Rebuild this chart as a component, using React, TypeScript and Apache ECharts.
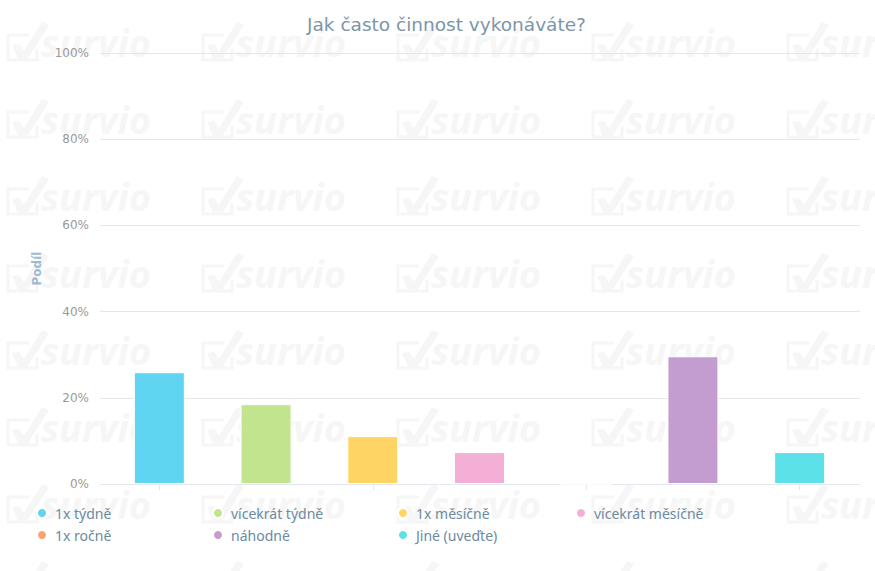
import React, { useEffect, useRef } from "react";
import * as echarts from "echarts";

const TITLE = "Jak často činnost vykonáváte?";
const Y_NAME = "Podíl";
const categories = [
  "1x týdně",
  "vícekrát týdně",
  "1x měsíčně",
  "vícekrát měsíčně",
  "1x ročně",
  "náhodně",
  "Jiné (uveďte)",
];
const shares = [25.93, 18.52, 11.11, 7.41, 0, 29.63, 7.41];
const yTicks = [0, 20, 40, 60, 80, 100];

const COLORS = ["#5fd5f1", "#c3e48e", "#fed564", "#f3afd5", "#f9a66e", "#c49dd0", "#5de1e8"];
const LEGEND_COLUMNS = [
  [0, 4],
  [1, 5],
  [2, 6],
  [3],
];
const LEGEND_X = [31, 207, 392, 570];

function watermark() {
  const els: any[] = [];
  const col = "#f6f6f6";
  for (let r = 0; r < 8; r++) {
    for (let c = 0; c < 5; c++) {
      const ox = 7 + 195 * c;
      const oy = 34 + 77 * r;
      const children: any[] = [
        {
          type: "polyline",
          z: -10,
          shape: { points: [[22, 1], [1, 1], [1, 26], [30, 26], [30, 15]] },
          style: { stroke: col, lineWidth: 3, fill: null },
        },
        {
          type: "polygon",
          z: -10,
          shape: { points: [[5, 11], [12, 10], [17, 17], [35, -12], [42, -9], [19, 27], [12, 27]] },
          style: { fill: col },
        },
      ];
      if (r < 7) {
        children.push({
          type: "text",
          z: -10,
          x: 34,
          y: 27,
          style: {
            text: "survio",
            fill: col,
            font: "italic bold 38px 'Open Sans'",
            textVerticalAlign: "bottom",
            verticalAlign: "bottom",
          },
        });
      }
      els.push({ type: "group", x: ox, y: oy, z: -10, silent: true, children });
    }
  }
  return els;
}

export default function App() {
  const ref = useRef<HTMLDivElement>(null);
  useEffect(() => {
    if (!ref.current) return;
    const chart = echarts.init(ref.current, null, { renderer: "svg" });
    const series = categories.map((name, i) => ({
      name,
      type: "bar",
      stack: "all",
      xAxisIndex: 1,
      yAxisIndex: 1,
      barWidth: 51,
      itemStyle: { color: COLORS[i], borderColor: "#ffffff", borderWidth: 1 },
      data: categories.map((_, j) => (j === i ? shares[i] : "-")),
    }));
    const legends = LEGEND_COLUMNS.map((idxs, k) => ({
      orient: "vertical",
      left: LEGEND_X[k],
      top: 501,
      itemWidth: 10,
      itemHeight: 10,
      itemGap: 8,
      icon: "circle",
      data: idxs.map((i) => categories[i]),
      textStyle: { color: "#6d8aa0", fontSize: 14, fontFamily: "'Noto Sans'", padding: [0, 0, 0, 3] },
    }));
    chart.setOption({
      animation: false,
      backgroundColor: "#ffffff",
      color: COLORS,
      title: {
        text: TITLE,
        left: 302,
        top: 10,
        textStyle: { color: "#7d95a8", fontSize: 18.5, fontWeight: "normal", fontFamily: "'DejaVu Sans'" },
      },
      legend: legends,
      graphic: watermark(),
      grid: [
        { left: 100, right: 15, top: 53, bottom: 87 },
        { left: 106, right: 22, top: 53, bottom: 87 },
      ],
      xAxis: [
        {
          gridIndex: 0,
          type: "category",
          data: categories,
          axisLine: { show: true, lineStyle: { color: "#e3e8f0", width: 1 } },
          axisTick: { show: false },
          axisLabel: { show: false },
        },
        {
          gridIndex: 1,
          type: "category",
          data: categories,
          axisLine: { show: false },
          axisTick: { show: true, alignWithLabel: true, length: 6, lineStyle: { color: "#e3e8f0" } },
          axisLabel: { show: false },
        },
      ],
      yAxis: [
        {
          gridIndex: 0,
          type: "value",
          min: yTicks[0],
          max: yTicks[yTicks.length - 1],
          interval: yTicks[1] - yTicks[0],
          name: Y_NAME,
          nameLocation: "middle",
          nameGap: 57,
          nameRotate: 90,
          nameTextStyle: { color: "#9fbad3", fontWeight: "bold", fontSize: 12, fontFamily: "'DejaVu Sans'" },
          axisLine: { show: false },
          axisTick: { show: false },
          axisLabel: {
            formatter: "{value}%",
            color: "#999999",
            fontSize: 12,
            margin: 11,
            fontFamily: "'DejaVu Sans'",
          },
          splitLine: { lineStyle: { color: "#e6e6e6", width: 1 } },
        },
        {
          gridIndex: 1,
          type: "value",
          min: yTicks[0],
          max: yTicks[yTicks.length - 1],
          show: false,
          splitLine: { show: false },
        },
      ],
      series,
    });
    return () => chart.dispose();
  }, []);
  return <div ref={ref} style={{ width: 875, height: 571, position: "absolute", left: 0, top: 0 }} />;
}
